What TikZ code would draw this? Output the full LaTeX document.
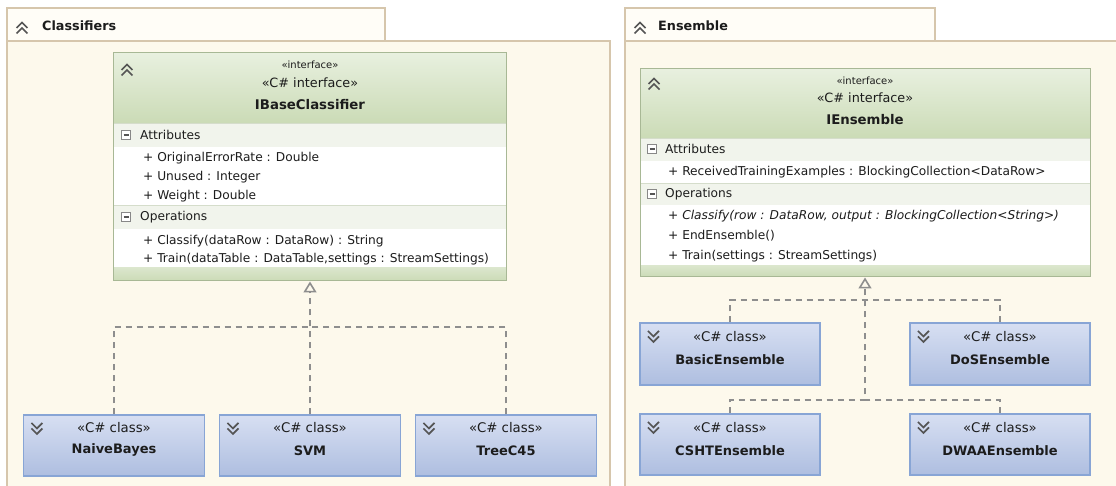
\documentclass[tikz,border=0pt]{standalone}
\usepackage{fontspec}
\setmainfont{DejaVu Sans}
\usetikzlibrary{arrows.meta}
\definecolor{pkgfill}{HTML}{FDF9EC}
\definecolor{tabfill}{HTML}{FFFDF7}
\definecolor{pkgdraw}{HTML}{D6C6AC}
\definecolor{hdtop}{HTML}{E8F0DF}
\definecolor{hdbot}{HTML}{CBDBB6}
\definecolor{ifdraw}{HTML}{A8B895}
\definecolor{band}{HTML}{F1F4EC}
\definecolor{sepcol}{HTML}{D5DDCB}
\definecolor{clstop}{HTML}{D7DFF2}
\definecolor{clsbot}{HTML}{AEBEE0}
\definecolor{clsdraw}{HTML}{88A5D5}
\definecolor{depcol}{HTML}{8E8E8E}
\definecolor{iconcol}{HTML}{555555}
\definecolor{txt}{HTML}{1C1C1C}
\tikzset{
  pkgbody/.style={draw=pkgdraw, fill=pkgfill, line width=1.2pt},
  pkgtab/.style={draw=pkgdraw, fill=tabfill, line width=1.2pt},
  ifbox/.style={draw=ifdraw, line width=1pt, inner sep=0pt},
  clsbox/.style={draw=clsdraw, line width=1.1pt, top color=clstop, bottom color=clsbot, minimum width=181pt, minimum height=61pt, inner sep=0pt},
  dep/.style={draw=depcol, line width=1.6pt, dash pattern=on 6pt off 5pt},
  realize/.style={dep, -{Triangle[open, length=11pt, width=13pt]}},
  txtline/.style={anchor=west, inner sep=0pt, text=txt, font=\fontsize{12.2}{14}\selectfont},
  sect/.style={anchor=west, inner sep=0pt, text=txt, font=\fontsize{12.2}{14}\selectfont},
  stereo/.style={inner sep=0pt, text=txt, font=\fontsize{12.8}{14}\selectfont},
  clsstereo/.style={inner sep=0pt, text=txt, font=\fontsize{13.3}{15}\selectfont},
  smallstereo/.style={inner sep=0pt, text=txt, font=\fontsize{10}{11}\selectfont},
  clsname/.style={inner sep=0pt, text=txt, font=\fontsize{13}{15}\selectfont\bfseries},
  ifname/.style={inner sep=0pt, text=txt, font=\fontsize{13.3}{15}\selectfont\bfseries},
  tabtitle/.style={anchor=west, inner sep=0pt, text=txt, font=\fontsize{12.8}{14}\selectfont\bfseries},
  chevup/.pic={
    \draw[iconcol, line width=1.7pt] (-5.5,0) -- (0,-5.5) -- (5.5,0);
    \draw[iconcol, line width=1.7pt] (-5.5,5.5) -- (0,0) -- (5.5,5.5);
  },
  chevdown/.pic={
    \draw[iconcol, line width=1.7pt] (-5.5,-5.5) -- (0,0) -- (5.5,-5.5);
    \draw[iconcol, line width=1.7pt] (-5.5,0) -- (0,5.5) -- (5.5,0);
  },
  minusbox/.pic={
    \draw[draw=iconcol!70, fill=white, line width=0.8pt] (-4.5,-4.5) rectangle (4.5,4.5);
    \draw[iconcol, line width=1.2pt] (-2.5,0) -- (2.5,0);
  }
}
\begin{document}
\begin{tikzpicture}[x=1pt, y=-1pt]
\useasboundingbox (0,0) rectangle (1116,486);
\fill[white] (0,0) rectangle (1116,486);

% ---------------- Left package ----------------
\path[pkgbody] (7,41) rectangle (610,495);
\path[pkgtab] (7,8) rectangle (385,41);
\pic at (22,28) {chevup};
\node[tabtitle] (tclass) at (42,26) {Classifiers};

% Interface IBaseClassifier
\shade[top color=hdtop, bottom color=hdbot] (113,53) rectangle (506,123);
\fill[band] (113,123) rectangle (506,147);
\fill[white] (113,147) rectangle (506,205);
\fill[band] (113,205) rectangle (506,229);
\fill[white] (113,229) rectangle (506,268);
\shade[top color=hdbot!70, bottom color=hdbot] (113,268) rectangle (506,281);
\draw[sepcol, line width=0.8pt] (113,123) -- (506,123);
\draw[sepcol, line width=0.8pt] (113,205) -- (506,205);
\node[ifbox, minimum width=393pt, minimum height=228pt] (ibc) at (309.5,167) {};
\pic at (127,70) {chevup};
\node[smallstereo] (ibcs1) at (310,65) {«interface»};
\node[stereo] (ibcs2) at (310,83) {«C\# interface»};
\node[ifname] (ibcn) at (310,105) {IBaseClassifier};
\pic at (126,135) {minusbox};
\node[sect] (ibca) at (140,135) {Attributes};
\node[txtline] (ibc1) at (143,158) {+ OriginalErrorRate : Double};
\node[txtline] (ibc2) at (143,177) {+ Unused : Integer};
\node[txtline] (ibc3) at (143,196) {+ Weight : Double};
\pic at (126,217) {minusbox};
\node[sect] (ibco) at (140,217) {Operations};
\node[txtline] (ibc4) at (143,241) {+ Classify(dataRow : DataRow) : String};
\node[txtline] (ibc5) at (143,259) {+ Train(dataTable : DataTable,settings : StreamSettings)};

% Classes
\node[clsbox] (nb) at (114,445.5) {};
\node[clsbox] (svm) at (310,445.5) {};
\node[clsbox] (tree) at (506,445.5) {};
\foreach \n/\t in {nb/NaiveBayes, svm/SVM, tree/TreeC45}{
  \pic at ([xshift=14pt, yshift=-14pt]\n.north west) {chevdown};
  \node[clsstereo] (\n-st) at ([yshift=-13pt]\n.north) {«C\# class»};
  \node[clsname] (\n-nm) at ([yshift=-36pt]\n.north) {\t};
}

\coordinate (jL) at (310,327);
\draw[dep] (nb.north) |- (jL);
\draw[dep] (tree.north) |- (jL);
\draw[realize] (svm.north) -- (svm.north |- ibc.south);

% ---------------- Right package ----------------
\path[pkgbody] (625,41) rectangle (1125,495);
\path[pkgtab] (625,8) rectangle (935,41);
\pic at (640,28) {chevup};
\node[tabtitle] (tens) at (658,26) {Ensemble};

% Interface IEnsemble
\shade[top color=hdtop, bottom color=hdbot] (640,69) rectangle (1090,138);
\fill[band] (640,138) rectangle (1090,161);
\fill[white] (640,161) rectangle (1090,183);
\fill[band] (640,183) rectangle (1090,205);
\fill[white] (640,205) rectangle (1090,266);
\shade[top color=hdbot!70, bottom color=hdbot] (640,266) rectangle (1090,277);
\draw[sepcol, line width=0.8pt] (640,138) -- (1090,138);
\draw[sepcol, line width=0.8pt] (640,183) -- (1090,183);
\node[ifbox, minimum width=450pt, minimum height=208pt] (ie) at (865,173) {};
\pic at (654,84) {chevup};
\node[smallstereo] (ies1) at (865,81) {«interface»};
\node[stereo] (ies2) at (865,98) {«C\# interface»};
\node[ifname] (ien) at (865,120) {IEnsemble};
\pic at (652,149) {minusbox};
\node[sect] (iea) at (665,149) {Attributes};
\node[txtline] (ie1) at (668,172) {+ ReceivedTrainingExamples : BlockingCollection<DataRow>};
\pic at (652,194) {minusbox};
\node[sect] (ieo) at (665,194) {Operations};
\node[txtline] (ie2) at (668,216) {\itshape + Classify(row : DataRow, output : BlockingCollection<String>)};
\node[txtline] (ie3) at (668,236) {+ EndEnsemble()};
\node[txtline] (ie4) at (668,256) {+ Train(settings : StreamSettings)};

% Ensemble classes
\node[clsbox, minimum width=180pt, minimum height=62pt] (basic) at (730,354) {};
\node[clsbox, minimum width=180pt, minimum height=62pt] (dos) at (1000,354) {};
\node[clsbox, minimum width=180pt, minimum height=61pt] (csht) at (730,444.5) {};
\node[clsbox, minimum width=180pt, minimum height=61pt] (dwaa) at (1000,444.5) {};
\foreach \n/\t in {basic/BasicEnsemble, dos/DoSEnsemble, csht/CSHTEnsemble, dwaa/DWAAEnsemble}{
  \pic at ([xshift=14pt, yshift=-14pt]\n.north west) {chevdown};
  \node[clsstereo] (\n-st) at ([yshift=-14pt]\n.north) {«C\# class»};
  \node[clsname] (\n-nm) at ([yshift=-37pt]\n.north) {\t};
}

\coordinate (jR1) at (865,300);
\coordinate (jR2) at (865,400);
\draw[dep] (basic.north) |- (jR1);
\draw[dep] (dos.north) |- (jR1);
\draw[dep] (dwaa.north) |- (jR2);
\draw[realize] (csht.north) |- (jR2) -- (ie.south);
\end{tikzpicture}
\end{document}
